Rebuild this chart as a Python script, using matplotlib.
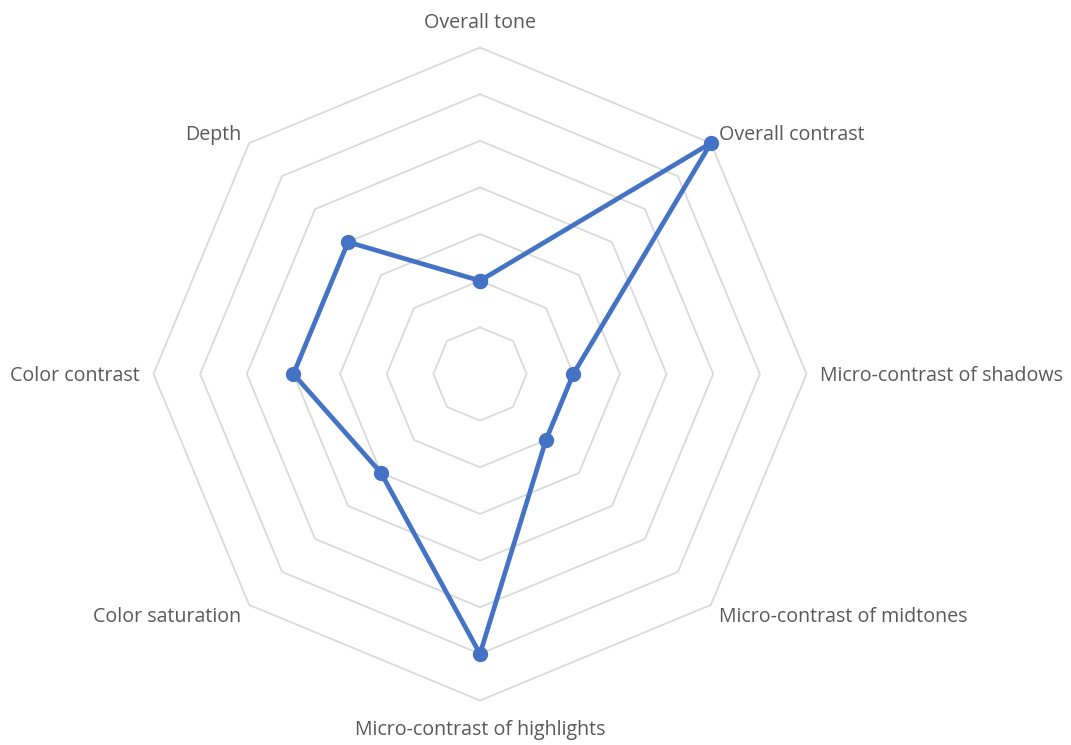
import numpy as np
import matplotlib
matplotlib.use("Agg")
import matplotlib.pyplot as plt

categories = ["Overall tone", "Overall contrast", "Micro-contrast of shadows",
              "Micro-contrast of midtones", "Micro-contrast of highlights",
              "Color saturation", "Color contrast", "Depth"]
values = [2, 7, 2, 2, 6, 3, 4, 4]
ring_levels = [1, 2, 3, 4, 5, 6, 7]

plt.rcParams['font.family'] = ['Open Sans', 'DejaVu Sans']

W, H = 1071, 745
fig = plt.figure(figsize=(W / 100, H / 100), dpi=100)
cx, cy, R = 480, 374, 326.5
ax = fig.add_axes([(cx - R) / W, (H - cy - R) / H, 2 * R / W, 2 * R / H], projection='polar')
ax.set_theta_zero_location('N')
ax.set_theta_direction(-1)
ax.set_ylim(0, 7)
ax.axis('off')

n = len(categories)
angles = np.arange(n) * 2 * np.pi / n
closed = np.append(angles, angles[0])

for lv in ring_levels:
    ax.plot(closed, [lv] * (n + 1), color='#d9d9d9', lw=1.3, zorder=1, clip_on=False)

vals = values + values[:1]
ax.plot(closed, vals, color='#4472C4', lw=3.4, zorder=3, clip_on=False,
        marker='o', markersize=10, markerfacecolor='#4472C4', markeredgecolor='#4472C4')

# label placement offsets (pixels) relative to the outer vertex
offsets = [(0, 25, 'center', 'center'), (8, 8, 'left', 'center'),
           (14, -2, 'left', 'center'), (8, -12, 'left', 'center'),
           (0, -29, 'center', 'center'), (-8, -12, 'right', 'center'),
           (-14, -2, 'right', 'center'), (-8, 8, 'right', 'center')]
for a, lab, (dx, dy, ha, va) in zip(angles, categories, offsets):
    ax.annotate(lab, xy=(a, 7), xytext=(dx, dy), textcoords='offset pixels',
                ha=ha, va=va, fontsize=14.1, color='#595959', annotation_clip=False)

fig.savefig('out.png', dpi=100, facecolor='white')
